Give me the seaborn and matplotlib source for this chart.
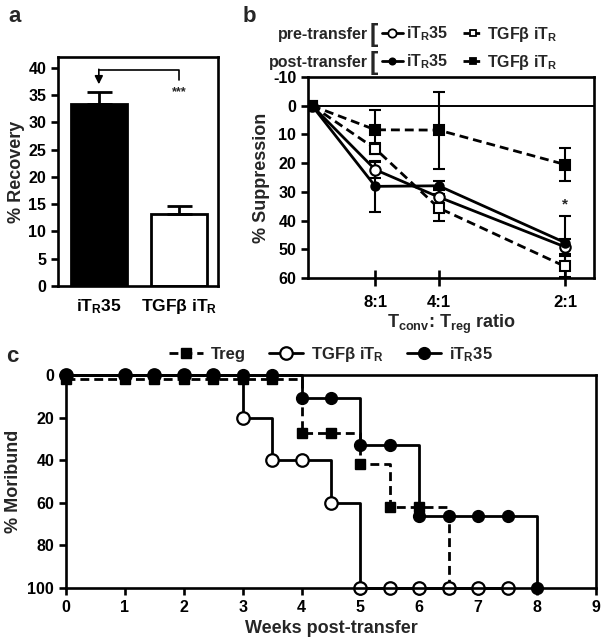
"""Three-panel figure: recovery bars (a), suppression curves (b), moribund steps (c)."""

import matplotlib

matplotlib.use("Agg")
import matplotlib.pyplot as plt
from matplotlib.lines import Line2D
import seaborn as sns

# ---- panel a: % recovery ------------------------------------------------------
recovery_groups = ["iT$_\\mathrm{R}$35", "TGFβ iT$_\\mathrm{R}$"]
recovery_mean = [33.4, 13.2]
recovery_sem = [2.1, 1.4]
recovery_colors = ["black", "white"]

# ---- panel b: % suppression vs Tconv:Treg ratio (x = Treg fraction) -----------
ratio_pos = [0.0, 0.125, 0.25, 0.5]
ratio_ticks = [0.125, 0.25, 0.5]
ratio_labels = ["8:1", "4:1", "2:1"]
pre_itr35 = [0.0, 22.3, 31.8, 49.2]
pre_itr35_err = [0.0, 2.8, 3.0, 2.6]
pre_tgfb = [0.0, 15.0, 35.6, 56.0]
pre_tgfb_err = [0.0, 2.0, 4.7, 3.6]
post_itr35 = [0.0, 28.1, 27.9, 47.7]
post_itr35_err = [0.0, 8.8, 1.5, 9.2]
post_tgfb = [0.0, 8.4, 8.5, 20.5]
post_tgfb_err = [0.0, 6.8, 13.4, 5.7]

# ---- panel c: % moribund over time ---------------------------------------------
treg_weeks = [0, 1, 1.5, 2, 2.5, 3, 3.5, 4, 4.5, 5, 5.5, 6, 6.5]
treg_moribund = [2, 2, 2, 2, 2, 2, 2, 27, 27, 42, 62, 62, 100]
tgfb_weeks = [0, 1, 1.5, 2, 2.5, 3, 3.5, 4, 4.5, 5, 5.5, 6, 6.5, 7, 7.5]
tgfb_moribund = [0, 0, 0, 0, 0, 20, 40, 40, 60, 100, 100, 100, 100, 100, 100]
itr35_weeks = [0, 1, 1.5, 2, 2.5, 3, 3.5, 4, 4.5, 5, 5.5, 6, 6.5, 7, 7.5, 8]
itr35_moribund = [0, 0, 0, 0, 0, 0, 0, 11, 11, 33, 33, 66, 66, 66, 66, 100]

SPINE_LW = 1.9
DASH = (0, (3.2, 1.8))


def set_style() -> None:
    sns.set_theme(style="ticks")
    plt.rcParams.update(
        {
            "font.family": ["Liberation Sans", "DejaVu Sans"],
            "font.weight": "bold",
            "axes.labelweight": "bold",
            "axes.unicode_minus": False,
            "mathtext.fontset": "custom",
            "mathtext.rm": "Liberation Sans:bold",
            "mathtext.it": "Liberation Sans:bold",
            "mathtext.bf": "Liberation Sans:bold",
            "axes.linewidth": SPINE_LW,
            "axes.edgecolor": "black",
            "xtick.color": "black",
            "ytick.color": "black",
            "xtick.labelsize": 11.5,
            "ytick.labelsize": 11.5,
            "axes.labelsize": 13,
            "xtick.major.width": SPINE_LW,
            "ytick.major.width": SPINE_LW,
            "xtick.major.size": 5,
            "ytick.major.size": 5,
        }
    )


def box(ax):
    for s in ax.spines.values():
        s.set_visible(True)
        s.set_linewidth(SPINE_LW)
        s.set_color("black")


set_style()
fig = plt.figure(figsize=(6.07, 6.43), dpi=100)

# ================================ panel a ======================================
ax_a = fig.add_axes([0.0956, 0.5552, 0.2636, 0.3561])
sns.barplot(
    x=recovery_groups,
    y=recovery_mean,
    hue=recovery_groups,
    palette=recovery_colors,
    edgecolor="black",
    linewidth=2,
    width=0.7,
    legend=False,
    ax=ax_a,
)
ax_a.errorbar(
    range(len(recovery_mean)),
    recovery_mean,
    yerr=[[0] * len(recovery_sem), recovery_sem],
    fmt="none",
    ecolor="black",
    elinewidth=2,
    capsize=9,
    capthick=2,
)
# significance bracket with arrow
BRACKET_Y, BRACKET_END = 39.7, 37.8
ax_a.plot([1, 1, 0], [BRACKET_END, BRACKET_Y, BRACKET_Y], color="black", lw=1.2)
ax_a.annotate(
    "",
    xy=(0, 37.0),
    xytext=(0, BRACKET_Y + 0.05),
    arrowprops=dict(arrowstyle="-|>", color="black", lw=1.2, mutation_scale=12,
                    shrinkA=0, shrinkB=0),
)
ax_a.text(1, 35.6, "***", ha="center", va="center", fontsize=9)
ax_a.set_xlim(-0.51, 1.49)
ax_a.set_ylim(0, 42)
ax_a.set_yticks(range(0, 41, 5))
ax_a.set_ylabel("% Recovery", labelpad=2)
ax_a.tick_params(axis="x", length=0, pad=8, labelsize=12.5)
box(ax_a)

# ================================ panel b ======================================
ax_b = fig.add_axes([0.5074, 0.5677, 0.4712, 0.3126])
ax_b.axhline(0, color="black", lw=1.4, zorder=1)

series_b = [
    (pre_itr35, pre_itr35_err, "-", "o", "white", 7.5),
    (pre_tgfb, pre_tgfb_err, DASH, "s", "white", 6.5),
    (post_itr35, post_itr35_err, "-", "o", "black", 6),
    (post_tgfb, post_tgfb_err, DASH, "s", "black", 6.5),
]
handles_b = []
for vals, errs, ls, mk, fc, ms in series_b:
    ax_b.errorbar(
        ratio_pos[1:], vals[1:], yerr=errs[1:], fmt="none", ecolor="black",
        elinewidth=1.5, capsize=4.5, capthick=1.5, zorder=2,
    )
    sns.lineplot(
        x=ratio_pos, y=vals, ax=ax_b, color="black", linestyle=ls, lw=2,
        marker=mk, markersize=ms, markerfacecolor=fc, mec="black", mew=1.5,
        estimator=None, sort=False, zorder=3,
    )
    handles_b.append(
        Line2D([], [], color="black", linestyle=(0, (2.2, 1.6)) if ls != "-" else "-",
               lw=2, marker=mk, markersize=ms - 1.5, markerfacecolor=fc,
               markeredgecolor="black", markeredgewidth=1.3)
    )
ax_b.text(0.5, 34.5, "*", ha="center", va="center", fontsize=11)
ax_b.set_xlim(-0.008, 0.557)
ax_b.set_ylim(60, -10)
ax_b.set_yticks(range(-10, 61, 10))
ax_b.set_xticks(ratio_ticks, ratio_labels)
ax_b.tick_params(axis="x", direction="inout", length=12, pad=6, labelsize=12)
ax_b.set_ylabel("% Suppression", labelpad=2)
ax_b.set_xlabel("T$_\\mathrm{conv}$: T$_\\mathrm{reg}$ ratio", labelpad=2)
box(ax_b)

legend_kw = dict(
    ncol=2, frameon=False, fontsize=11.5, handlelength=1.3, handletextpad=0.2,
    columnspacing=0.9, borderpad=0, borderaxespad=0, loc="center left",
    bbox_transform=fig.transFigure,
)
leg_pre = ax_b.legend(
    handles=handles_b[:2], labels=[recovery_groups[0], recovery_groups[1]],
    bbox_to_anchor=(382 / 607, 1 - 34 / 643), **legend_kw,
)
ax_b.add_artist(leg_pre)
ax_b.legend(
    handles=handles_b[2:], labels=[recovery_groups[0], recovery_groups[1]],
    bbox_to_anchor=(382 / 607, 1 - 62 / 643), **legend_kw,
)
fig.text(368 / 607, 1 - 34 / 643, "pre-transfer", ha="right", va="center", fontsize=11.5)
fig.text(368 / 607, 1 - 62 / 643, "post-transfer", ha="right", va="center", fontsize=11.5)
for yy in (34, 62):
    fig.text(370 / 607, 1 - (yy + 1) / 643, "[", ha="left", va="center",
             fontsize=18, fontweight="bold")

# ================================ panel c ======================================
ax_c = fig.add_axes([0.1087, 0.0855, 0.8731, 0.3313])
sns.lineplot(
    x=treg_weeks, y=treg_moribund, ax=ax_c, color="black", linestyle=DASH, lw=2,
    drawstyle="steps-post", marker="s", markersize=7.5, markerfacecolor="black",
    mec="black", mew=1, estimator=None, sort=False, label="Treg", clip_on=False,
)
sns.lineplot(
    x=tgfb_weeks, y=tgfb_moribund, ax=ax_c, color="black", lw=2,
    drawstyle="steps-post", marker="o", markersize=9, markerfacecolor="white",
    mec="black", mew=1.6, estimator=None, sort=False, label=recovery_groups[1],
    clip_on=False,
)
sns.lineplot(
    x=itr35_weeks, y=itr35_moribund, ax=ax_c, color="black", lw=2,
    drawstyle="steps-post", marker="o", markersize=8.5, markerfacecolor="black",
    mec="black", mew=1, estimator=None, sort=False, label=recovery_groups[0],
    clip_on=False,
)
ax_c.set_xlim(0, 9)
ax_c.set_ylim(100, 0)
ax_c.set_xticks(range(0, 10))
ax_c.set_yticks(range(0, 101, 20))
ax_c.set_xlabel("Weeks post-transfer", labelpad=4)
ax_c.set_ylabel("% Moribund", labelpad=4)
ax_c.legend(
    ncol=3, frameon=False, fontsize=12, handlelength=2.0, handletextpad=0.5,
    columnspacing=1.4, loc="center", bbox_to_anchor=(0.5, 1.095),
    borderpad=0,
)
box(ax_c)

# panel letters
fig.text(8 / 607, 1 - 16 / 643, "a", fontsize=16, va="center")
fig.text(243 / 607, 1 - 16 / 643, "b", fontsize=16, va="center")
fig.text(6 / 607, 1 - 356 / 643, "c", fontsize=16, va="center")

fig.savefig("out.png", dpi=100)
